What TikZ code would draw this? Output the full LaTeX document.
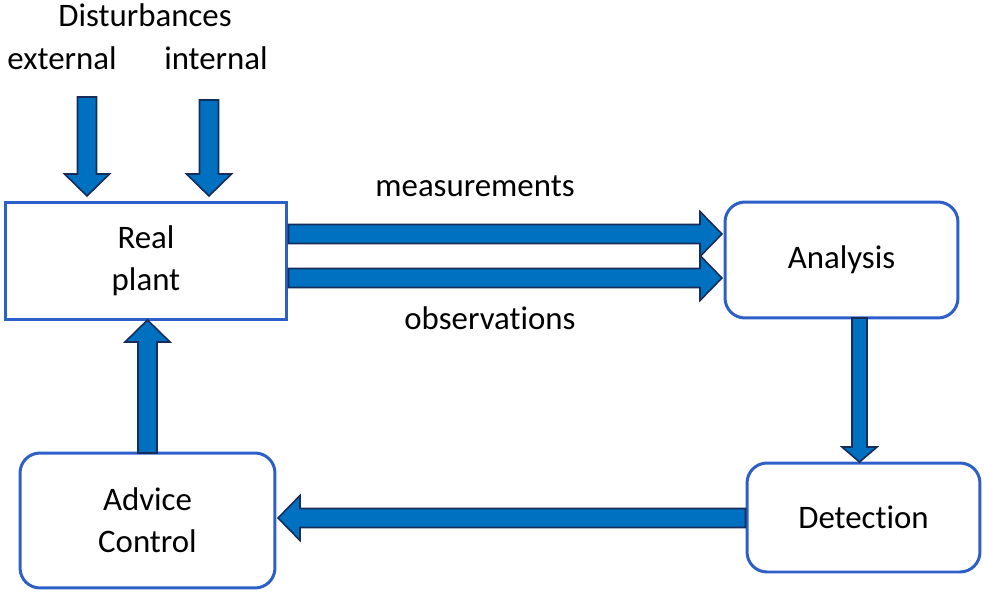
\documentclass[tikz,border=0pt]{standalone}
\usepackage{fontspec}
\setmainfont{Carlito}[Ligatures=CommonOff]
\usetikzlibrary{calc}

\definecolor{boxblue}{RGB}{45,95,200}
\definecolor{arrowblue}{RGB}{0,112,192}
\definecolor{arrowedge}{RGB}{22,45,90}

\tikzset{
  % block arrow : shaft half width, head half width, head length
  blockarrow/.style n args={3}{to path={
    let \p1=($(\tikztotarget)-(\tikztostart)$), \n1={atan2(\y1,\x1)}, \n2={veclen(\x1,\y1)} in
    [shift={(\tikztostart)}, rotate=\n1]
    (0,-#1) -- (\n2-#3,-#1) -- (\n2-#3,-#2) -- (\n2,0) -- (\n2-#3,#2)
    -- (\n2-#3,#1) -- (0,#1) -- cycle}},
  flow/.style={blockarrow={0.19cm}{0.45cm}{0.44cm}, fill=arrowblue, draw=arrowedge, line width=0.9pt},
  flowthin/.style={blockarrow={0.15cm}{0.35cm}{0.3cm}, fill=arrowblue, draw=arrowedge, line width=0.9pt},
  plant/.style={draw=boxblue, line width=1.7pt, align=center},
  stage/.style={plant, rounded corners=0.4cm},
  lbl/.style={inner sep=0pt},
}

\begin{document}
\begin{tikzpicture}[x=0.02cm, y=-0.02cm, font=\fontsize{18.7}{23.8}\selectfont]
  \useasboundingbox (0,0) rectangle (984,595);

  % ------ blocks --------------
  \node[plant, minimum width=5.64cm, minimum height=2.34cm] (rp) at (146,261) {Real\\plant};
  \node[stage, minimum width=4.66cm, minimum height=2.32cm] (an) at (841.5,260) {Analysis};
  \node[stage, minimum width=4.66cm, minimum height=2.18cm] (de) at (863.5,517.5) {Detection};
  \node[stage, minimum width=5.1cm, minimum height=2.7cm] (ac) at (147.5,520.5) {Advice\\Control};

  % ------ labels --------------
  \node[lbl] (dist) at (145,15) {Disturbances};
  \node[lbl] (ext) at (62,58) {external};
  \node[lbl] (int) at (216,58) {internal};
  \node[lbl] (meas) at (475,186) {measurements};
  \node[lbl] (obs) at (490,318) {observations};

  % ------ arrow ends --------------
  \coordinate (e1) at (87,97);   \coordinate (e2) at (87,196);
  \coordinate (i1) at (209,100); \coordinate (i2) at (209,196);
  \coordinate (m1) at (rp.east |- 0,234);  \coordinate (m2) at (722,234);
  \coordinate (o1) at (rp.east |- 0,278);  \coordinate (o2) at (722,278);
  \coordinate (a1) at (859.5,318); \coordinate (a2) at (859.5,462);
  \coordinate (d1) at (de.west |- 0,518);  \coordinate (d2) at (278,518);
  \coordinate (c1) at (147.5,453); \coordinate (c2) at (147.5,320);

  \draw[flow] (e1) to (e2);
  \draw[flow] (i1) to (i2);
  \draw[flow] (m1) to (m2);
  \draw[flow] (o1) to (o2);
  \draw[flowthin] (a1) to (a2);
  \draw[flow] (d1) to (d2);
  \draw[flow] (c1) to (c2);
\end{tikzpicture}
\end{document}
